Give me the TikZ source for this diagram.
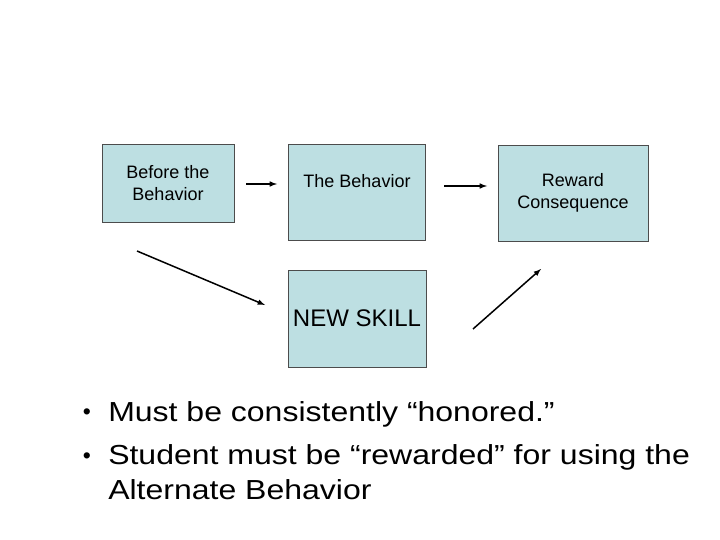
\documentclass[tikz,border=0pt]{standalone}
\usepackage{fontspec}
\setmainfont{Liberation Sans}
\usetikzlibrary{arrows}
\definecolor{boxfill}{RGB}{189,223,226}
\tikzset{
  box/.style={draw=black!70, fill=boxfill, line width=0.8bp, align=center,
    inner sep=0pt, font=\fontsize{18bp}{21.6bp}\selectfont},
  point/.style={anchor=base west, align=left, inner sep=0pt, yscale=0.86,
    transform shape, font=\fontsize{32bp}{40.7bp}\selectfont},
  dot/.style={inner sep=0pt, font=\fontsize{23bp}{23bp}\selectfont}
}

\begin{document}
\begin{tikzpicture}[x=1bp,y=-1bp,>=latex,line width=1.5bp]
    \useasboundingbox (0,0) rectangle (720,540);
    \path
    (168,183) node[box,minimum width=132bp,minimum height=78bp] (before) {Before the\\Behavior}
    (357,192) node[box,minimum width=137bp,minimum height=96bp] (behavior) {The Behavior\\~}
    (573,193) node[box,minimum width=150bp,minimum height=96bp] (reward) {Reward\\Consequence}
    (357,318.5) node[box,minimum width=138bp,minimum height=97bp,
      font=\fontsize{24bp}{28bp}\selectfont] (skill) {NEW SKILL};
    \coordinate (a1) at (246,184);
    \coordinate (b1) at (277,184);
    \coordinate (a2) at (444,186);
    \coordinate (b2) at (487,186);
    \coordinate (a3) at (137,251);
    \coordinate (b3) at (265,305);
    \coordinate (a4) at (473,329);
    \coordinate (b4) at (541,269);
    \draw[->] (a1) -- (b1);
    \draw[->] (a2) -- (b2);
    \draw[->] (a3) -- (b3);
    \draw[->] (a4) -- (b4);
    \path
    (87,414) node[dot] (d1) {•}
    (87,458) node[dot] (d2) {•}
    (107.5,421.5) node[point] (p1) {Must be consistently “honored.”}
    (107.5,499.5) node[point] (p2) {Student must be “rewarded” for using the\\Alternate Behavior};
  \end{tikzpicture}
\end{document}
